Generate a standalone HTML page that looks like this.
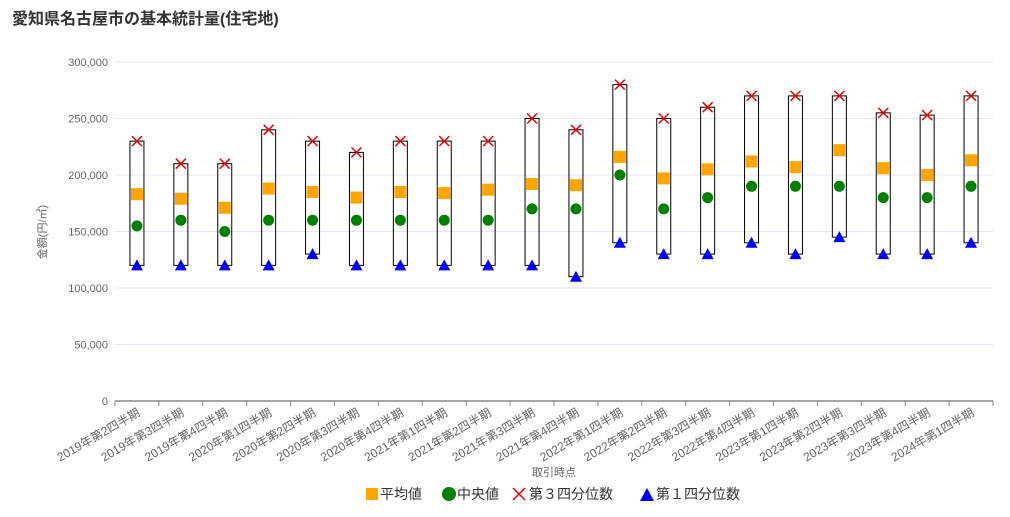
<!DOCTYPE html>
<html><head><meta charset="utf-8"><style>
body{margin:0;background:#fff;font-family:"Liberation Sans","Noto Sans CJK JP",sans-serif;}
svg text{font-family:"Liberation Sans","Noto Sans CJK JP",sans-serif;}
</style></head><body>
<svg id="c" width="1010" height="512">
<text x="12" y="24" font-size="16" font-weight="bold" fill="#333">愛知県名古屋市の基本統計量(住宅地)</text>
<g id="grid"></g><g id="marks"></g><g id="xl"></g>
<text transform="translate(46,232) rotate(-90)" text-anchor="middle" font-size="11" fill="#666">金額(円/㎡)</text>
<text x="554" y="476" text-anchor="middle" font-size="11" fill="#666">取引時点</text>
<g font-size="14" fill="#333">
<rect x="366" y="488" width="12" height="12" fill="#FFA500"/>
<text x="380" y="499">平均値</text>
<circle cx="449" cy="494" r="7" fill="#008000"/>
<text x="457" y="499">中央値</text>
<path d="M513,488 l12,12 M525,488 l-12,12" stroke="#e00" stroke-width="1.5"/>
<text x="529" y="499">第３四分位数</text>
<path d="M640,501 l7,-13 l7,13z" fill="#00f"/>
<text x="656" y="499">第１四分位数</text>
</g>
</svg>
<script>
const categories=["2019年第2四半期","2019年第3四半期","2019年第4四半期","2020年第1四半期","2020年第2四半期","2020年第3四半期","2020年第4四半期","2021年第1四半期","2021年第2四半期","2021年第3四半期","2021年第4四半期","2022年第1四半期","2022年第2四半期","2022年第3四半期","2022年第4四半期","2023年第1四半期","2023年第2四半期","2023年第3四半期","2023年第4四半期","2024年第1四半期"];
const q3Values=[230000,210000,210000,240000,230000,220000,230000,230000,230000,250000,240000,280000,250000,260000,270000,270000,270000,255000,253000,270000];
const meanValues=[183000,179000,171000,188000,185000,180000,185000,184000,187000,192000,191000,216000,197000,205000,212000,207000,222000,206000,200000,213000];
const medianValues=[155000,160000,150000,160000,160000,160000,160000,160000,160000,170000,170000,200000,170000,180000,190000,190000,190000,180000,180000,190000];
const q1Values=[120000,120000,120000,120000,130000,120000,120000,120000,120000,120000,110000,140000,130000,130000,140000,130000,145000,130000,130000,140000];
const yTicks=[0,50000,100000,150000,200000,250000,300000];
const NS="http://www.w3.org/2000/svg";
const X0=115,X1=993,Y0=401,Y1=62,YMAX=300000;
const bw=(X1-X0)/categories.length;
const xs=i=>X0+bw*(i+0.5);
const ys=v=>Y0-(v/YMAX)*(Y0-Y1);
function mk(tag,attrs,parent){const e=document.createElementNS(NS,tag);for(const k in attrs)e.setAttribute(k,attrs[k]);parent.appendChild(e);return e;}
const grid=document.getElementById('grid'),marks=document.getElementById('marks'),xl=document.getElementById('xl');
yTicks.forEach(t=>{
 const y=ys(t);
 if(t>0){const l=mk('line',{x1:X0,x2:X1,y1:y,y2:y,stroke:'#e6e6f0'},grid);
 
 }
 const tx=mk('text',{x:108,y:y+4,'text-anchor':'end','font-size':'11',fill:'#666'},grid);
 tx.textContent=t.toLocaleString('en-US');
 
 
});
const ax=mk('line',{x1:X0,x2:X1,y1:Y0,y2:Y0,stroke:'#888','stroke-width':1.5},grid);


for(let i=0;i<=categories.length;i++){const x=X0+bw*i;const t=mk('line',{x1:x,x2:x,y1:Y0,y2:Y0+5,stroke:'#888'},grid);

}
categories.forEach((c,i)=>{
 const x=xs(i);
 const b=mk('rect',{x:x-7,y:ys(q3Values[i]),width:14,height:ys(q1Values[i])-ys(q3Values[i]),fill:'none',stroke:'#000','stroke-width':1},marks);
 
 
 const q1=ys(q1Values[i]);
 const tr=mk('path',{d:`M${x-6},${q1+5} L${x},${q1-6} L${x+6},${q1+5}Z`,fill:'#00f'},marks);
 
 
 const q3=ys(q3Values[i]);
 const cr=mk('path',{d:`M${x-5},${q3-5} L${x+5},${q3+5} M${x+5},${q3-5} L${x-5},${q3+5}`,stroke:'#e00','stroke-width':1.5},marks);
 
 
 const md=mk('circle',{cx:x,cy:ys(medianValues[i]),r:5.5,fill:'#008000'},marks);
 
 
 const mn=mk('rect',{x:x-6,y:ys(meanValues[i])-6,width:12,height:12,fill:'#FFA500'},marks);
 
 
 const lb=mk('text',{transform:`translate(${x+4},${Y0+14}) rotate(-30)`,'text-anchor':'end','font-size':'12',fill:'#666'},xl);
 lb.textContent=c;
 
 
});
</script>
</body></html>
